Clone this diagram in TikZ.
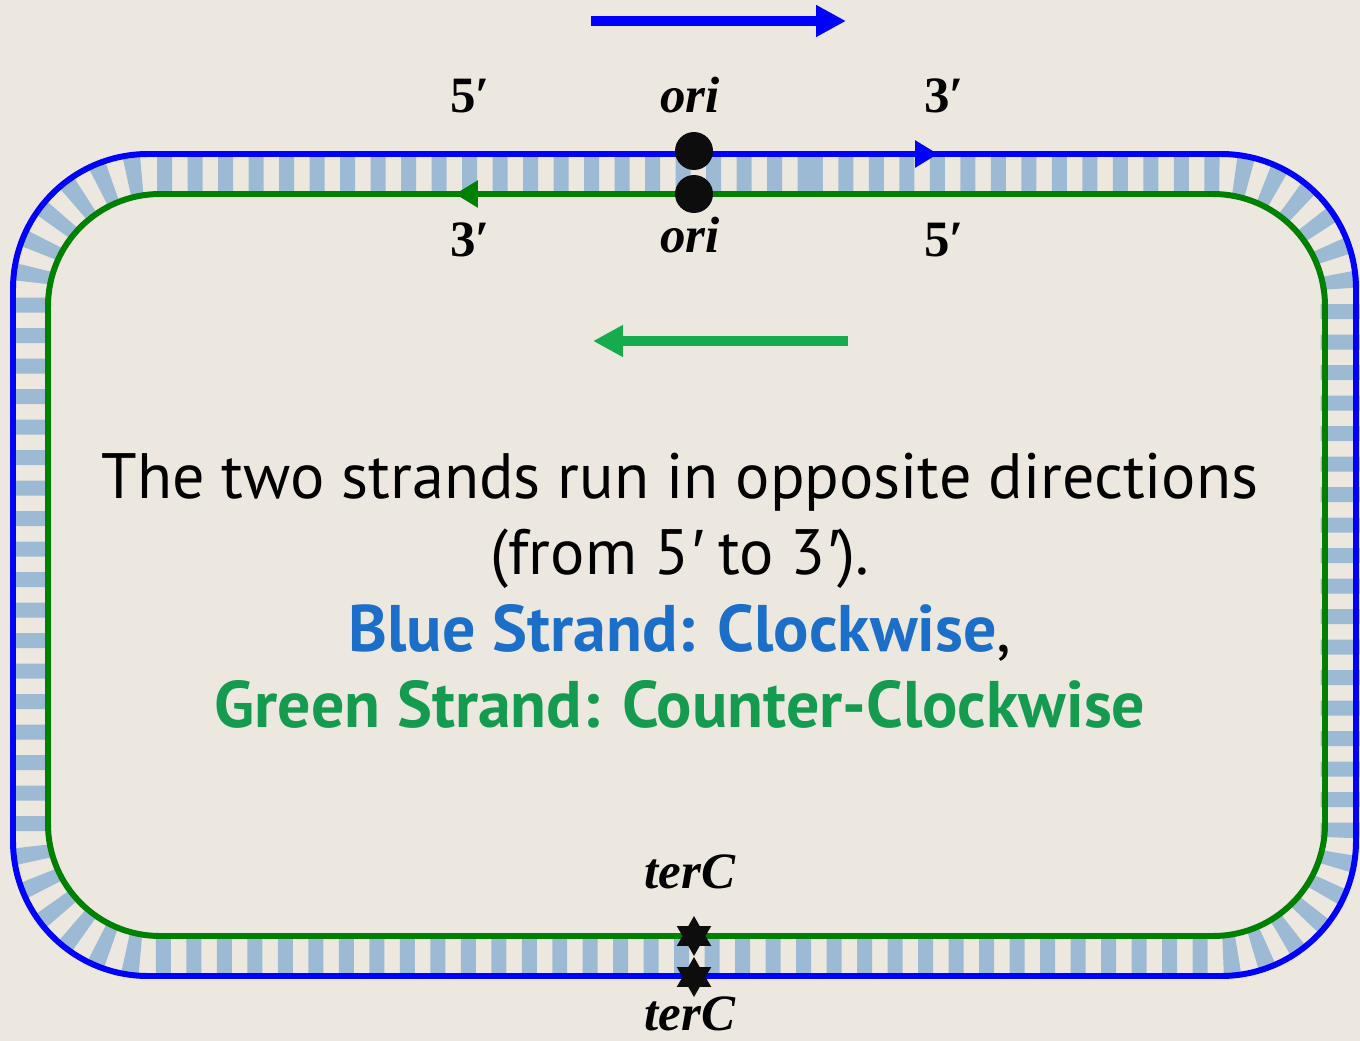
\documentclass[tikz,border=0pt]{standalone}
\usepackage{fontspec}
\setmainfont{Liberation Serif}
\newfontfamily\capfont{PT Sans}
\newfontfamily\primefont{Liberation Sans}
\usetikzlibrary{arrows.meta,positioning,shapes.geometric}
\definecolor{cBg}{HTML}{EDE8DF}
\definecolor{cBlue}{HTML}{0000FF}
\definecolor{cGreen}{HTML}{008000}
\definecolor{cRung}{HTML}{9DBAD5}
\definecolor{cTxtBlue}{HTML}{1B6FC8}
\definecolor{cTxtGreen}{HTML}{149B50}
\definecolor{cArrGreen}{HTML}{16AB4C}
\newcommand{\pr}{{\primefont\itshape ′}}
\tikzset{
  strand/.style={line width=3.4pt},
  rungs/.style={cRung, line width=0.78cm, dash pattern=on 0.3cm off 0.31cm, rounded corners=2.44cm},
  tip/.style={-{Triangle[length=0.46cm, width=0.52cm]}, line width=3.4pt},
  bigarrow/.style={-{Triangle[length=0.6cm, width=0.6cm]}, line width=0.2cm},
  oridot/.style={circle, fill=black!95, minimum size=0.76cm, inner sep=0pt},
  terstar/.style={star, star points=6, star point ratio=1.75, fill=black!95, minimum size=0.8cm, inner sep=0pt},
  lbl/.style={font=\fontsize{29}{30}\selectfont\bfseries, anchor=base},
  loc/.style={font=\fontsize{29}{30}\selectfont\bfseries\itshape, anchor=base},
  msg/.style={font=\capfont\fontsize{36.5}{40}\selectfont, anchor=base},
  msgbold/.style={font=\capfont\fontsize{37.5}{40}\selectfont\bfseries, anchor=base},
}
\begin{document}
\begin{tikzpicture}[x=0.02cm, y=-0.02cm]
  \fill[cBg] (0,0) rectangle (1360,1041);
  \useasboundingbox (0,0) rectangle (1360,1041);
  % base pairs between the two strands
  \draw[rungs] (686,174) -- (1340,174) -- (1340,956) -- (30,956) -- (30,174) -- cycle;
  % the two strands
  \draw[strand, cBlue, rounded corners=2.7cm] (13,154) rectangle (1356,976);
  \draw[strand, cGreen, rounded corners=2.24cm] (48,194) rectangle (1325,936);
  \coordinate (bt1) at (900,154);
  \coordinate (bt2) at (938,154);
  \coordinate (gt1) at (495,194);
  \coordinate (gt2) at (455,194);
  \draw[tip, cBlue] (bt1) -- (bt2);
  \draw[tip, cGreen] (gt1) -- (gt2);
  % origin and terminus
  \node[oridot] (oriB) at (694,151) {};
  \node[oridot] (oriG) at (694,194) {};
  \node[terstar] (terG) at (694,936) {};
  \node[terstar] (terB) at (694,977) {};
  \node[lbl] (b5) at (470,112) {5′};
  \node[loc] (boriL) at (690,112) {ori};
  \node[lbl] (b3) at (944,112) {3′};
  \node[lbl] (g3) at (470,256) {3′};
  \node[loc] (goriL) at (690,252) {ori};
  \node[lbl] (g5) at (944,256) {5′};
  \node[loc] (gterL) at (690,888) {terC};
  \node[loc] (bterL) at (690,1030) {terC};
  % direction arrows
  \coordinate (bArrS) at (591,21);
  \coordinate (bArrE) at (846,21);
  \coordinate (gArrS) at (848,341);
  \coordinate (gArrE) at (593,341);
  \draw[bigarrow, cBlue] (bArrS) -- (bArrE);
  \draw[bigarrow, cArrGreen] (gArrS) -- (gArrE);
  % caption
  \node[msg] (m1) at (680,498) {The two strands run in opposite directions};
  \node[msg] (m2) at (680,574) {(from 5\pr{} to 3\pr).};
  \node[msgbold] (m3) at (680,651) {\textcolor{cTxtBlue}{Blue Strand: Clockwise}\mdseries,};
  \node[msgbold, cTxtGreen] (m4) at (680,727) {Green Strand: Counter-Clockwise};
\end{tikzpicture}
\end{document}
